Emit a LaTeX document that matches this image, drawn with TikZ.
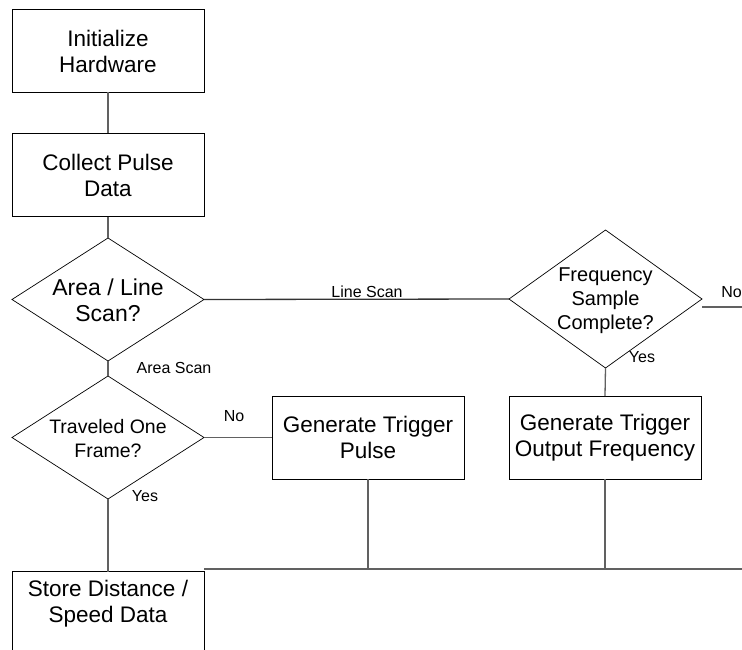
\documentclass[tikz,border=0pt]{standalone}
\usepackage{fontspec}
\setmainfont{Liberation Sans}
\usetikzlibrary{shapes.geometric,calc}
\begin{document}
\begin{tikzpicture}[x=1pt,y=-1pt,
  procbox/.style={draw=black,line width=0.8pt,minimum width=192pt,minimum height=83pt,
    inner sep=0pt,outer sep=0pt,align=center,font=\fontsize{22.5}{26}\selectfont},
  decision/.style={draw=black,line width=0.7pt,diamond,inner sep=0pt,outer sep=0pt},
  dtext/.style={align=center,inner sep=0pt},
  link/.style={draw=black!62,line width=1.3pt},
  tag/.style={font=\fontsize{16}{18}\selectfont,inner sep=0pt}]

\useasboundingbox (0,0) rectangle (742,650);

% process boxes
\node[procbox] (init)    at (108,51)  {Initialize\\Hardware};
\node[procbox] (collect) at (108,175) {Collect Pulse\\Data};
\node[procbox] (gtp)     at (368,437.5) {Generate Trigger\\Pulse};
\node[procbox] (gtof)    at (605,437.5) {Generate Trigger\\Output Frequency};
\node[procbox] (store)   at (108,613) {};
\node[dtext,font=\fontsize{22.5}{26}\selectfont] (storet) at (108,604) {Store Distance /\\Speed Data};

% decisions
\node[decision,minimum width=192pt,minimum height=123pt] (d1) at (108,299.5) {};
\node[dtext,font=\fontsize{23}{26}\selectfont] (d1t) at (108,300) {Area / Line\\Scan?};
\node[decision,minimum width=192pt,minimum height=123pt] (d2) at (108,437.5) {};
\node[dtext,font=\fontsize{19.5}{24}\selectfont] (d2t) at (108,439) {Traveled One\\Frame?};
\node[decision,minimum width=193pt,minimum height=138pt] (d3) at (605.5,299) {};
\node[dtext,font=\fontsize{20}{24}\selectfont] (d3t) at (605.5,301) {Frequency\\Sample\\Complete?};

% free ends
\coordinate (noR)  at (742,307);
\coordinate (busL) at (204,569);
\coordinate (busR) at (742,569);

% connectors
\draw[link] (init.south) -- (collect.north);
\draw[link] (collect.south) -- (d1.north);
\draw[link] (d1.south) -- (d2.north);
\draw[link] (d2.south) -- (store.north);
\draw[link] (d2.east) -- (gtp.west);
\draw[link,draw=black!80] (d1.east) -- (d3.west);
\draw[link] (d3.south) -- (gtof.north);
\draw[link] (d3.east |- noR) -- (noR);
\draw[link] (busL) -- (busR);
\draw[link] (gtp.south) -- (gtp.south |- busL);
\draw[link] (gtof.south) -- (gtof.south |- busL);

% branch labels
\node[tag] (lArea) at (174,368) {Area Scan};
\node[tag] (lLine) at (367,292) {Line Scan};
\node[tag] (lNo1)  at (234,416) {No};
\node[tag] (lYes1) at (145,496) {Yes};
\node[tag] (lYes2) at (642,357) {Yes};
\node[tag,anchor=east] (lNo2) at (742,292) {No};

\end{tikzpicture}
\end{document}
